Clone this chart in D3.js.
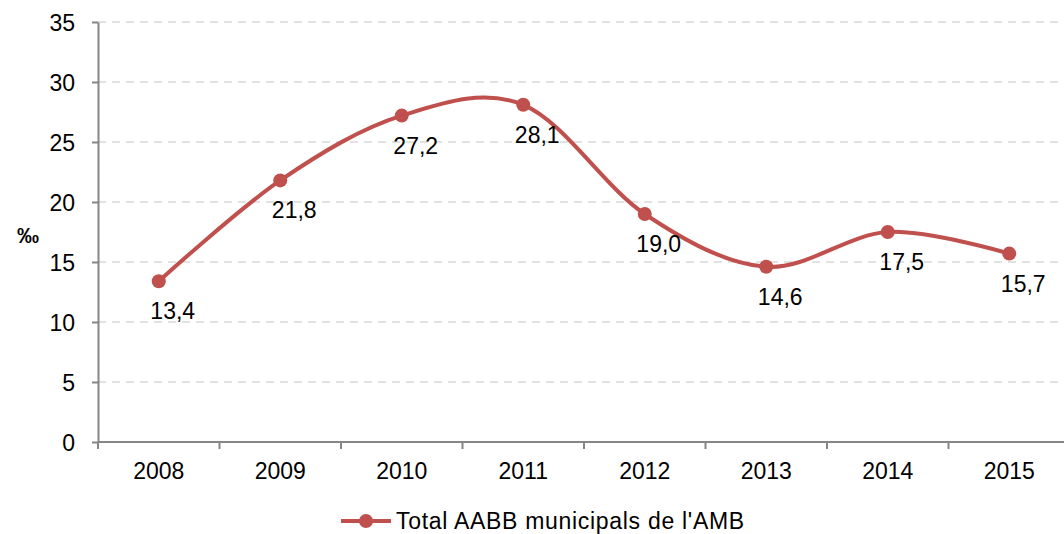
<!DOCTYPE html>
<html>
<head>
<meta charset="utf-8">
<script src="https://cdn.jsdelivr.net/npm/d3@7"></script>
<style>
  body { margin: 0; background: #fff; }
  svg { font-family: "Liberation Sans", Arial, sans-serif; display: block; }
  .domain { stroke: #868686; stroke-width: 2; }
  .tick line { stroke: #868686; stroke-width: 2; }
  .tick text { font-size: 23px; fill: #000; }
</style>
</head>
<body>
<div id="chart"></div>
<script>
const years = ["2008", "2009", "2010", "2011", "2012", "2013", "2014", "2015"];
const values = [13.4, 21.8, 27.2, 28.1, 19.0, 14.6, 17.5, 15.7];
const labels = ["13,4", "21,8", "27,2", "28,1", "19,0", "14,6", "17,5", "15,7"];
const yTicks = [0, 5, 10, 15, 20, 25, 30, 35];
const seriesName = "Total AABB municipals de l'AMB";

const W = 1064, H = 534;
const plot = { left: 98, right: 1070, top: 22, bottom: 442 };
const lineColor = "#c0504d";

const svg = d3.select("#chart")
  .append("svg")
  .attr("width", W)
  .attr("height", H);

const x = d3.scaleBand()
  .domain(years)
  .range([plot.left, plot.right])
  .padding(0);

const y = d3.scaleLinear()
  .domain([0, 35])
  .range([plot.bottom, plot.top]);

// Gridlines
svg.append("g")
  .selectAll("line")
  .data(yTicks.filter(d => d > 0))
  .enter()
  .append("line")
  .attr("x1", plot.left)
  .attr("x2", W)
  .attr("y1", d => y(d))
  .attr("y2", d => y(d))
  .attr("stroke", "#d9d9d9")
  .attr("stroke-width", 1.5)
  .attr("stroke-dasharray", "8,6");

// Y axis
svg.append("g")
  .attr("transform", `translate(${plot.left},0)`)
  .call(d3.axisLeft(y).tickValues(yTicks).tickSize(6).tickPadding(17).tickSizeOuter(0))
  .call(g => g.selectAll(".tick text").attr("dy", "0.35em"));

// X axis (labels centred in bands, ticks on band boundaries)
const xAxis = svg.append("g")
  .attr("transform", `translate(0,${plot.bottom})`)
  .call(d3.axisBottom(x).tickSize(0).tickPadding(21).tickSizeOuter(0));
xAxis.select(".domain").attr("d", `M${plot.left},0H${W}`);

xAxis.selectAll(".boundary")
  .data(years)
  .enter()
  .append("line")
  .attr("class", "boundary")
  .attr("x1", d => x(d))
  .attr("x2", d => x(d))
  .attr("y1", 0)
  .attr("y2", 7)
  .attr("stroke", "#868686")
  .attr("stroke-width", 2);

// Y unit label
svg.append("text")
  .attr("x", 28)
  .attr("y", 243)
  .attr("text-anchor", "middle")
  .attr("font-size", 22)
  .attr("font-weight", "bold")
  .text("‰");

// Line
const pts = years.map((yr, i) => ({ year: yr, value: values[i], label: labels[i] }));
const line = d3.line()
  .x(d => x(d.year) + x.bandwidth() / 2)
  .y(d => y(d.value))
  .curve(d3.curveCardinal.tension(0));

svg.append("path")
  .datum(pts)
  .attr("d", line)
  .attr("fill", "none")
  .attr("stroke", lineColor)
  .attr("stroke-width", 4);

svg.selectAll(".dot")
  .data(pts)
  .enter()
  .append("circle")
  .attr("class", "dot")
  .attr("cx", d => x(d.year) + x.bandwidth() / 2)
  .attr("cy", d => y(d.value))
  .attr("r", 7)
  .attr("fill", lineColor);

svg.selectAll(".lbl")
  .data(pts)
  .enter()
  .append("text")
  .attr("class", "lbl")
  .attr("x", d => x(d.year) + x.bandwidth() / 2 + 14)
  .attr("y", d => y(d.value) + 38)
  .attr("text-anchor", "middle")
  .attr("font-size", 23)
  .text(d => d.label);

// Legend
const legend = svg.append("g").attr("transform", "translate(341,521)");
legend.append("line")
  .attr("x1", 0).attr("x2", 50)
  .attr("stroke", lineColor)
  .attr("stroke-width", 4);
legend.append("circle")
  .attr("cx", 25)
  .attr("r", 7)
  .attr("fill", lineColor);
legend.append("text")
  .attr("x", 55)
  .attr("dy", "0.35em")
  .attr("font-size", 23)
  .attr("letter-spacing", 0.7)
  .text(seriesName);
</script>
</body>
</html>
